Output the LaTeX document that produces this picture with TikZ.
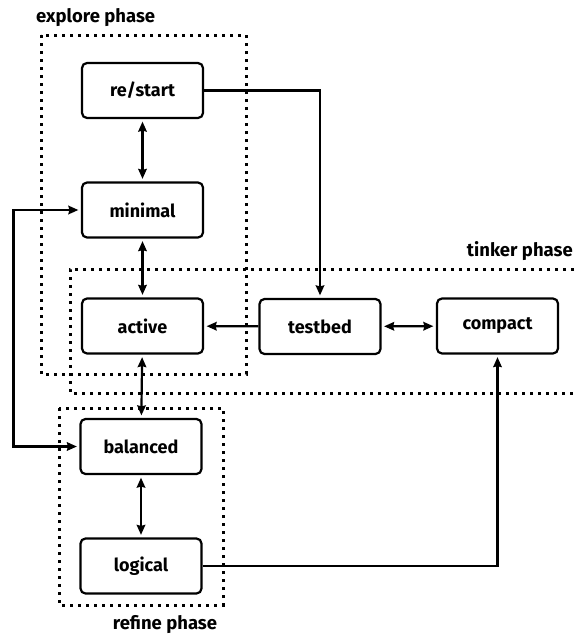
\documentclass[tikz,border=0pt]{standalone}
\usepackage{fontspec}
\setmainfont{Fira Sans}
\usetikzlibrary{arrows.meta}
\begin{document}
\begin{tikzpicture}[x=1pt,y=-1pt,
  stage/.style={draw, line width=2.2pt, rounded corners=5pt, minimum width=121pt,
    minimum height=55pt, font=\fontsize{18}{21}\selectfont\bfseries, inner sep=0pt},
  link/.style={line width=2.2pt, shorten <=2.5pt, shorten >=2.5pt,
    arrows={Stealth[length=10pt,width=8.5pt,inset=1pt]-Stealth[length=10pt,width=8.5pt,inset=1pt]}},
  flow/.style={line width=2.2pt, shorten >=2.5pt,
    -{Stealth[length=10pt,width=8.5pt,inset=1pt]}},
  zone/.style={line width=3pt, dash pattern=on 3pt off 5pt},
  zonelabel/.style={font=\fontsize{18.5}{21}\selectfont\bfseries, inner sep=0pt}]
\useasboundingbox (0,0) rectangle (574,637);

% phase regions
\draw[zone] (41,35) rectangle (246,374);
\draw[zone] (574,269) -- (70,269) -- (70,393) -- (574,393);
\draw[zone] (59,408) rectangle (223,605);

\node[zonelabel, anchor=west] (explorelbl) at (36,18) {explore phase};
\node[zonelabel, anchor=east] (tinkerlbl) at (573,251) {tinker phase};
\node[zonelabel] (refinelbl) at (165,625) {refine phase};

% stages
\node[stage] (restart)  at (142.5,90.5) {re/start};
\node[stage] (minimal)  at (142.5,210)  {minimal};
\node[stage] (active)   at (142.5,326)  {active};
\node[stage] (testbed)  at (320,326.5)  {testbed};
\node[stage] (compact)  at (497.5,326)  {compact};
\node[stage] (balanced) at (141,446.5)  {balanced};
\node[stage] (logical)  at (141,566)    {logical};

% connectors
\draw[link] (restart) -- (minimal);
\draw[link] (minimal) -- (active);
\draw[link] (active) -- (balanced);
\draw[link] (balanced) -- (logical);
\draw[link] (testbed) -- (compact);
\draw[flow] (testbed) -- (active);
\draw[flow] (restart.east) -| (testbed.north);
\draw[flow] (logical.east) -| (compact.south);
\draw[link] (minimal.west) -- ++(-67.5,0) |- (balanced.west);
\end{tikzpicture}
\end{document}
